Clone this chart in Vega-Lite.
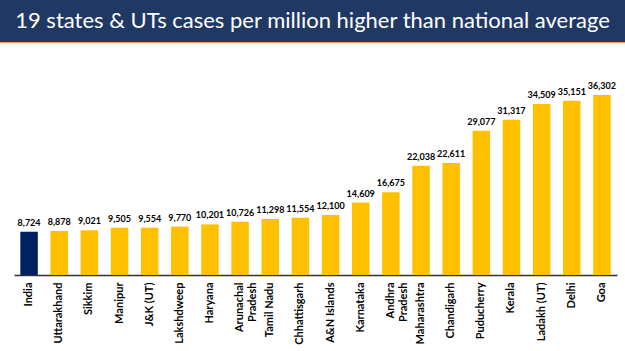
{
  "$schema": "https://vega.github.io/schema/vega-lite/v6.json",
  "padding": 0,
  "spacing": 0,
  "bounds": "flush",
  "background": "white",
  "config": {"view": {"stroke": null}, "font": "Lato"},
  "vconcat": [
    {
      "width": 625,
      "height": 42,
      "view": {"fill": "#203864", "stroke": null},
      "data": {"values": [{"t": "19 states & UTs cases per million higher than national average"}]},
      "mark": {"type": "text", "color": "white", "fontSize": 22, "font": "Lato", "baseline": "middle", "align": "center"},
      "encoding": {"text": {"field": "t"}}
    },
    {
      "width": 625,
      "height": 1,
      "view": {"fill": "#EE9A6A", "stroke": null},
      "data": {"values": [{"t": ""}]},
      "mark": {"type": "text"},
      "encoding": {"text": {"field": "t"}}
    },
    {
      "width": 625,
      "height": 232,
      "data": {"values": [
        {"state": "India", "value": 8724, "group": "India"},
        {"state": "Uttarakhand", "value": 8878, "group": "State"},
        {"state": "Sikkim", "value": 9021, "group": "State"},
        {"state": "Manipur", "value": 9505, "group": "State"},
        {"state": "J&K (UT)", "value": 9554, "group": "State"},
        {"state": "Lakshdweep", "value": 9770, "group": "State"},
        {"state": "Haryana", "value": 10201, "group": "State"},
        {"state": "Arunachal|Pradesh", "value": 10726, "group": "State"},
        {"state": "Tamil Nadu", "value": 11298, "group": "State"},
        {"state": "Chhattisgarh", "value": 11554, "group": "State"},
        {"state": "A&N Islands", "value": 12100, "group": "State"},
        {"state": "Karnataka", "value": 14609, "group": "State"},
        {"state": "Andhra|Pradesh", "value": 16675, "group": "State"},
        {"state": "Maharashtra", "value": 22038, "group": "State"},
        {"state": "Chandigarh", "value": 22611, "group": "State"},
        {"state": "Puducherry", "value": 29077, "group": "State"},
        {"state": "Kerala", "value": 31317, "group": "State"},
        {"state": "Ladakh (UT)", "value": 34509, "group": "State"},
        {"state": "Delhi", "value": 35151, "group": "State"},
        {"state": "Goa", "value": 36302, "group": "State"}
      ]},
      "encoding": {
        "x": {
          "field": "state", "type": "nominal", "sort": null,
          "scale": {"paddingInner": 0.42, "paddingOuter": 0.21, "range": [14, 617]},
          "axis": {
            "title": null, "labelAngle": -90, "labelAlign": "right", "labelBaseline": "middle",
            "labelExpr": "split(datum.value, '|')",
            "labelFont": "Lato", "labelFontSize": 11, "labelFontWeight": "bold", "labelColor": "#000000",
            "labelPadding": 7, "ticks": false, "domainColor": "#333333", "domainWidth": 1.5,
            "labelLineHeight": 13
          }
        },
        "y": {
          "field": "value", "type": "quantitative",
          "scale": {"domain": [0, 46789], "nice": false},
          "axis": null
        }
      },
      "layer": [
        {
          "mark": {"type": "bar"},
          "encoding": {
            "color": {"field": "group", "type": "nominal", "scale": {"domain": ["India", "State"], "range": ["#002060", "#FFC000"]}, "legend": null}
          }
        },
        {
          "mark": {"type": "text", "baseline": "bottom", "dy": -4, "fontSize": 9, "fontWeight": "bold", "font": "Lato", "color": "#000000"},
          "encoding": {"text": {"field": "value", "type": "quantitative", "format": ","}}
        }
      ]
    }
  ]
}
